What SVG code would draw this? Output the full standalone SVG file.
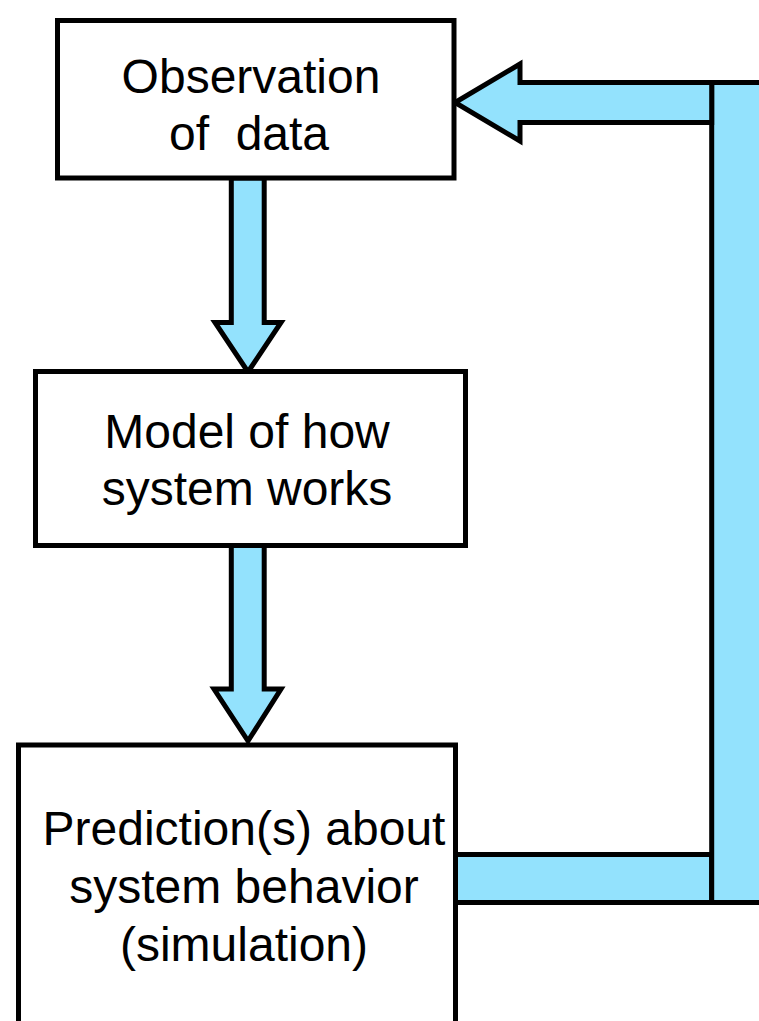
<svg xmlns="http://www.w3.org/2000/svg" width="759" height="1021" viewBox="0 0 759 1021">
  <style>
    .box { fill: #ffffff; stroke: #000000; stroke-width: 5; }
    .flow { fill: #93e2fd; stroke: #000000; stroke-width: 5; stroke-linejoin: miter; stroke-miterlimit: 10; }
    .label { font-family: "Liberation Sans", Arial, Helvetica, sans-serif; font-size: 48px; fill: #000000; text-anchor: middle; }
  </style>
  <rect width="759" height="1021" fill="#ffffff"/>

  <!-- block arrows linking the steps, plus the feedback loop -->
  <g id="connectors">
    <polygon class="flow" points="231.3,178 264.2,178 264.2,322.5 281,322.5 248,372 215,322.5 231.3,322.5"/>
    <polygon class="flow" points="231.3,545.5 264.2,545.5 264.2,689 281,689 248,741 214,689 231.3,689"/>
    <rect class="flow" x="455.5" y="854.5" width="256.2" height="48"/>
    <rect class="flow" x="711.7" y="82.5" width="90" height="820"/>
    <polygon class="flow" points="711.7,82.5 520,82.5 520,64 455,102.5 520,141 520,122.5 711.7,122.5"/>
  </g>

  <g id="observation">
    <rect class="box" x="57.5" y="20.5" width="396.5" height="157.5"/>
    <text class="label" x="251" y="93">Observation</text>
    <text class="label" x="249" y="150" xml:space="preserve">of  data</text>
  </g>

  <g id="model">
    <rect class="box" x="35.5" y="371.5" width="430" height="174"/>
    <text class="label" x="247" y="448">Model of how</text>
    <text class="label" x="247" y="505">system works</text>
  </g>

  <g id="prediction">
    <rect class="box" x="18.5" y="745" width="437" height="300"/>
    <text class="label" x="244" y="845">Prediction(s) about</text>
    <text class="label" x="244" y="903">system behavior</text>
    <text class="label" x="244" y="961">(simulation)</text>
  </g>
</svg>
